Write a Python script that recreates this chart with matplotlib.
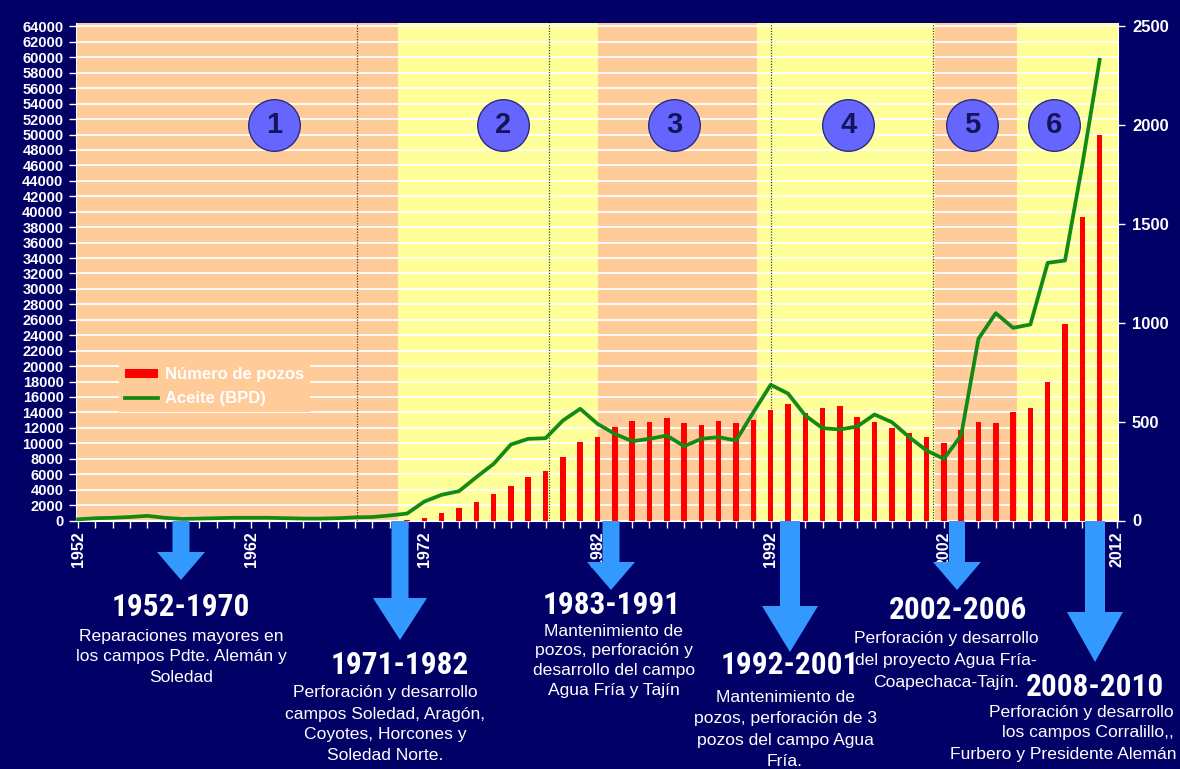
import matplotlib
matplotlib.use('Agg')
import matplotlib.pyplot as plt
from matplotlib import font_manager
from matplotlib.patches import Polygon
from matplotlib.lines import Line2D
from matplotlib.patches import Patch
from matplotlib.ticker import MultipleLocator, FixedLocator

# ---------------- data ----------------
years = list(range(1952, 2012))
oil_bpd = [150, 300, 350, 450, 600, 350, 200, 250, 300, 350,
           350, 350, 300, 250, 250, 300, 400, 450, 650, 900,
           2460, 3330, 3800, 5610, 7340, 9850, 10580, 10660, 12950, 14470,
           12520, 11230, 10270, 10580, 11010, 9630, 10580, 10800, 10360, 14030,
           17580, 16450, 13600, 11960, 11790, 12180, 13730, 12740, 10800, 9070,
           7990, 11010, 23540, 26860, 24960, 25390, 33380, 33680, 46100, 59680]

well_years = list(range(1971, 2012))
wells = [5, 14, 39, 62, 95, 134, 174, 220, 252, 319,
         396, 422, 473, 502, 497, 519, 493, 482, 502, 493,
         507, 559, 588, 546, 570, 580, 526, 499, 470, 443,
         421, 394, 460, 499, 495, 548, 570, 703, 995, 1537, 1952]

series_labels = ['Número de pozos', 'Aceite (BPD)']

# stage bands (start, end) in years and colours
band_edges = [1951.88, 1970.5, 1982.0, 1991.2, 2001.5, 2006.2, 2012.06]
band_colors = ['#FFCC99', '#FFFF99', '#FFCC99', '#FFFF99', '#FFCC99', '#FFFF99']
divider_years = [1968.1, 1979.2, 1992.0, 2001.4]

stage_numbers = ['1', '2', '3', '4', '5', '6']
stage_circle_x = [1963.34, 1976.55, 1986.43, 1996.48, 2003.65, 2008.38]
stage_circle_y = 51200

period_titles = ['1952-1970', '1971-1982', '1983-1991', '1992-2001', '2002-2006', '2008-2010']
period_texts = [
    ['Reparaciones mayores en', 'los campos Pdte. Alemán y', 'Soledad'],
    ['Perforación y desarrollo', 'campos Soledad, Aragón,', 'Coyotes, Horcones y', 'Soledad Norte.'],
    ['Mantenimiento de', 'pozos, perforación y', 'desarrollo del campo', 'Agua Fría y Tajín'],
    ['Mantenimiento de', 'pozos, perforación de 3', 'pozos del campo Agua', 'Fría.'],
    ['Perforación y desarrollo', 'del proyecto Agua Fría-', 'Coapechaca-Tajín.'],
    ['Perforación y desarrollo', 'los campos Corralillo,,', 'Furbero y Presidente Alemán'],
]

# ---------------- layout (pixels) ----------------
W, H = 1180, 769
title_pos = [(181, 607), (400, 665), (612, 605), (790, 665), (958, 610), (1095, 687)]
# first-line centre for each description block, per-line x override for last block
text_pos = [(181, 636), (385, 693), (614, 631), (785, 698), (946, 639), (1080, 712)]
text_step = [21, 21, 19.7, 21, 22, 21]
last_block_x = [1081, 1088, 1063]
# arrows: centre x, top y, tip y, shaft width, head width, head length
arrows = [(181, 521, 580, 17, 48, 28),
          (400, 521, 640, 17, 54, 42),
          (611, 521, 590, 17, 48, 28),
          (790, 521, 652, 20, 56, 46),
          (957, 521, 590, 16, 48, 28),
          (1095, 521, 662, 20, 56, 50)]

NAVY = '#000066'
plt.rcParams['font.family'] = ['Liberation Sans', 'DejaVu Sans']

names = {f.name for f in font_manager.fontManager.ttflist}
title_family, title_size = 'Liberation Sans', 20
for cand, sz in [('Liberation Sans Narrow', 25), ('Roboto Condensed', 22.5),
                 ('DejaVu Sans Condensed', 20), ('Open Sans Condensed', 23)]:
    if cand in names:
        title_family, title_size = cand, sz
        break


def fx(x):
    return x / W


def fy(y):
    return 1 - y / H


fig = plt.figure(figsize=(W / 100, H / 100), dpi=100, facecolor=NAVY)
ax = fig.add_axes([fx(76), fy(520.5), (1118 - 76) / W, (520.5 - 23) / H])
ax.set_xlim(band_edges[0], band_edges[-1])
ax.set_ylim(0, 64450)

for i, c in enumerate(band_colors):
    ax.axvspan(band_edges[i], band_edges[i + 1], color=c, lw=0, zorder=0)
ax.set_axisbelow(True)
ax.yaxis.grid(True, color='white', lw=1.3)
for d in divider_years:
    ax.axvline(d, color='#444444', ls=(0, (1, 1.2)), lw=0.9, zorder=0.8)

ax.yaxis.set_major_locator(MultipleLocator(2000))
ax.xaxis.set_major_locator(FixedLocator(list(range(1952, 2013, 10))))
ax.xaxis.set_minor_locator(MultipleLocator(1))
ax.tick_params(axis='y', colors='white', length=5, width=1, pad=4,
               labelsize=10.5)
ax.tick_params(axis='x', which='both', colors='white', length=5, width=1,
               pad=3, labelsize=11.5, labelrotation=90)
for lab in ax.get_yticklabels() + ax.get_xticklabels():
    lab.set_fontweight('bold')
for s in ['top', 'right']:
    ax.spines[s].set_visible(False)
for s in ['left', 'bottom']:
    ax.spines[s].set_color('white')

# bars on right axis
ax2 = ax.twinx()
ax2.set_ylim(0, 64450 / 25.6)
ax2.bar(well_years, wells, width=0.32, color='#FF0000', lw=0, zorder=2)
ax2.yaxis.set_major_locator(MultipleLocator(500))
ax2.tick_params(axis='y', colors='white', length=5, width=1, pad=5,
                labelsize=12)
for lab in ax2.get_yticklabels():
    lab.set_fontweight('bold')
for s in ['top', 'left', 'bottom']:
    ax2.spines[s].set_visible(False)
ax2.spines['right'].set_color('white')

# oil line on left scale (third axes on top)
ax3 = ax.twinx()
ax3.set_ylim(ax.get_ylim())
ax3.axis('off')
ax3.plot(years, oil_bpd, color='#138A13', lw=2.7, solid_joinstyle='round',
         zorder=3)

# stage circles
ax3.scatter(stage_circle_x, [stage_circle_y] * len(stage_circle_x), s=1380,
            facecolor='#6666FF', edgecolor='#2B2B80', lw=1, zorder=5)
for xv, t in zip(stage_circle_x, stage_numbers):
    ax3.text(xv, stage_circle_y, t, ha='center', va='center', fontsize=21,
             fontweight='bold', color='#14145A', zorder=6)

# legend
handles = [Patch(facecolor='#FF0000', edgecolor='none'),
           Line2D([], [], color='#138A13', lw=2.7)]
leg = ax3.legend(handles, series_labels, loc='upper left',
                 bbox_to_anchor=(0.033, 0.337), frameon=True,
                 facecolor='#FFCC99', edgecolor='none', framealpha=1,
                 fancybox=False, handlelength=2.0, handleheight=0.45,
                 handletextpad=0.45, labelspacing=0.55, borderpad=0.35,
                 prop={'weight': 'bold', 'size': 12}, labelcolor='white')
leg.set_zorder(7)

# arrows (figure pixel coordinates)
for cx, ytop, ytip, sw, hw, hl in arrows:
    pts = [(cx - sw / 2, ytop), (cx + sw / 2, ytop), (cx + sw / 2, ytip - hl),
           (cx + hw / 2, ytip - hl), (cx, ytip), (cx - hw / 2, ytip - hl),
           (cx - sw / 2, ytip - hl)]
    poly = Polygon([(fx(a), fy(b)) for a, b in pts], closed=True,
                   transform=fig.transFigure, facecolor='#3399FF',
                   edgecolor='none', zorder=10)
    fig.add_artist(poly)

# period titles and descriptions
for (tx, ty), title in zip(title_pos, period_titles):
    fig.text(fx(tx), fy(ty), title, ha='center', va='center', color='white',
             fontsize=title_size, fontweight='bold', family=title_family,
             zorder=11)
for bi, ((tx, ty), step, lines) in enumerate(zip(text_pos, text_step, period_texts)):
    for k, line in enumerate(lines):
        xx = last_block_x[k] if bi == len(period_texts) - 1 else tx
        fig.text(fx(xx), fy(ty + k * step), line, ha='center', va='center',
                 color='white', fontsize=12.6, zorder=11)

fig.savefig('out.png', dpi=100, facecolor=NAVY)
